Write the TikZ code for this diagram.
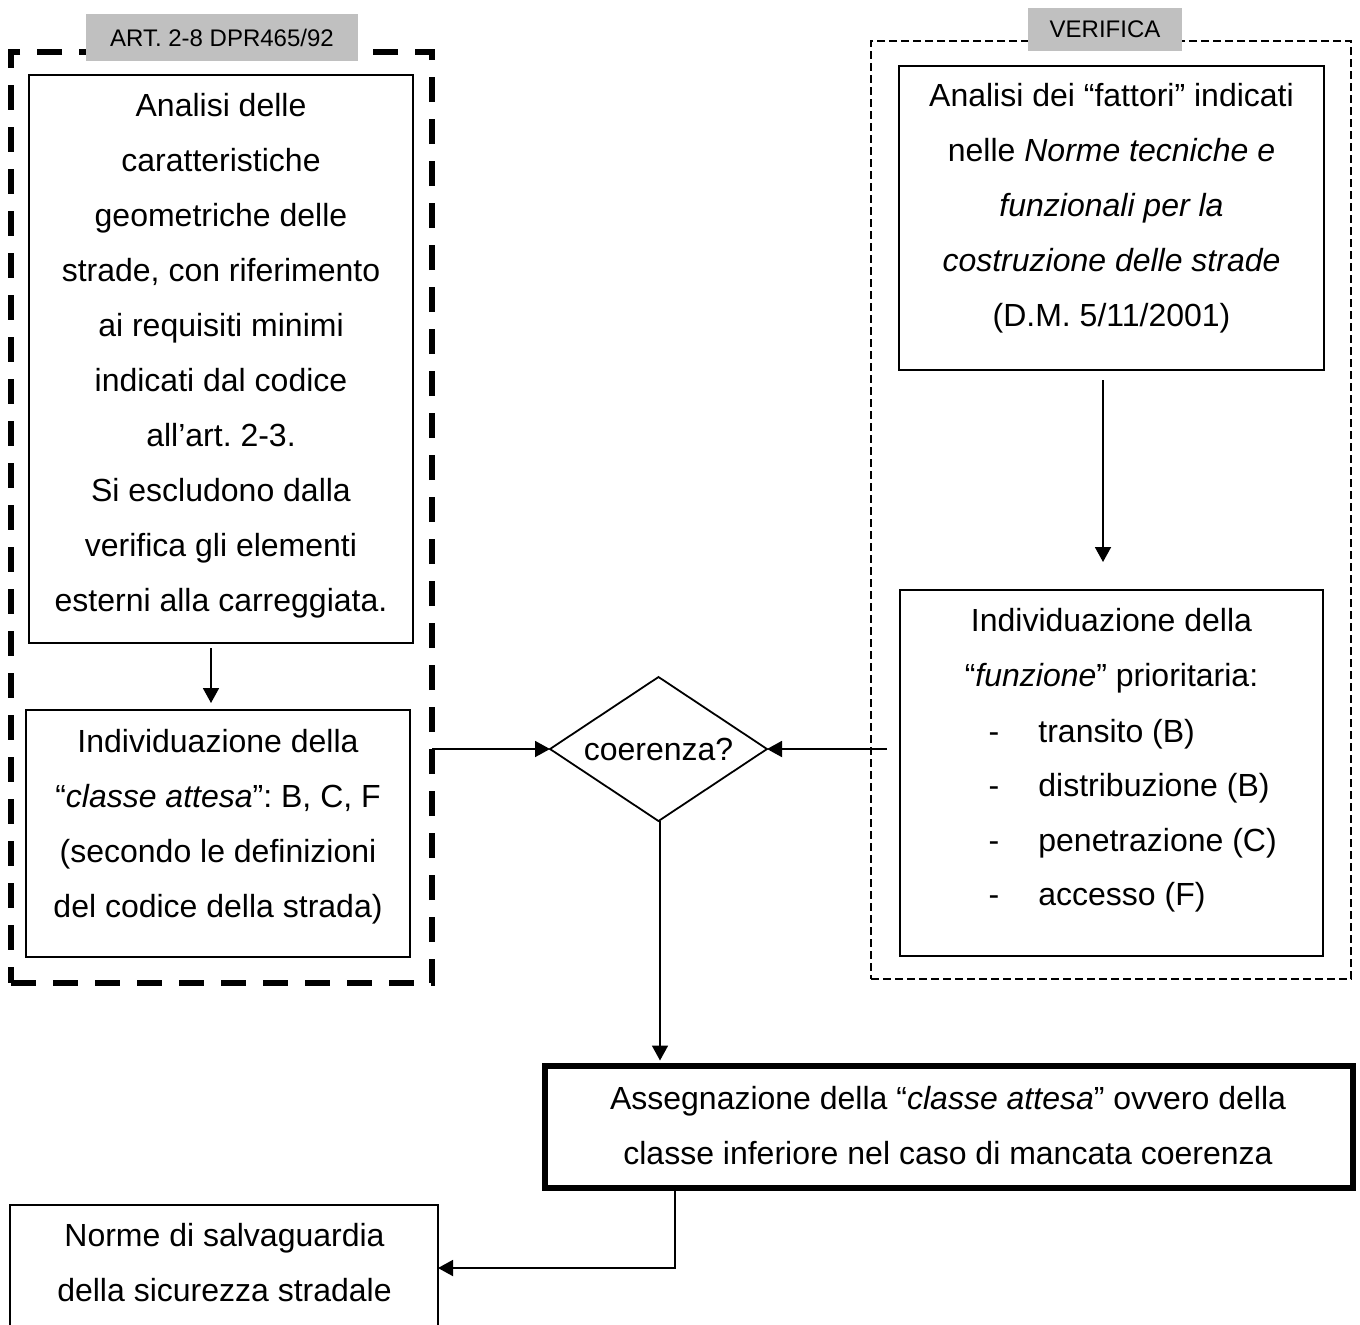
\documentclass[tikz,border=0pt]{standalone}
\usepackage{fontspec}
\setmainfont{Liberation Sans}
\usetikzlibrary{shapes.geometric,arrows.meta}
\definecolor{lblgray}{RGB}{192,192,192}
\frenchspacing
\begin{document}
\begin{tikzpicture}[x=0.5pt,y=-0.5pt,
  box/.style={draw, line width=0.9pt, rectangle, inner sep=0pt, outer sep=0pt},
  thickbox/.style={draw, line width=3pt, rectangle, inner sep=0pt, outer sep=0pt},
  grpthick/.style={draw, line width=3pt, dash pattern=on 12.5pt off 8.5pt, rectangle, inner sep=0pt, outer sep=0pt},
  grpthin/.style={draw, line width=1.1pt, dash pattern=on 4pt off 2pt, rectangle, inner sep=0pt, outer sep=0pt},
  txt/.style={align=center, inner sep=0pt, font=\fontsize{16}{27.5}\selectfont},
  item/.style={inner sep=0pt, font=\fontsize{16}{27.5}\selectfont},
  lbl/.style={fill=lblgray, inner sep=0pt, font=\fontsize{12}{14}\selectfont},
  decision/.style={draw, line width=0.9pt, diamond, aspect=1.5, inner sep=0pt, outer sep=0pt, font=\fontsize{16}{19}\selectfont},
  arr/.style={line width=0.9pt, -{Triangle[length=7.5pt,width=8pt]}},
  link/.style={line width=0.9pt}]
\useasboundingbox (0,0) rectangle (1360,1324);
\clip (0,0) rectangle (1360,1324);
\fill[white] (0,0) rectangle (1360,1324);

% group frames
\node[grpthick, minimum width=210.5pt, minimum height=465.5pt] (grp1) at (221.5,517.5) {};
\node[grpthin, minimum width=240pt, minimum height=469pt] (grp2) at (1111,510) {};

% group labels
\node[lbl, minimum width=136pt, minimum height=23.5pt] (lab1) at (222,37.5) {ART. 2-8 DPR465/92};
\node[lbl, minimum width=77pt, minimum height=21.5pt] (lab2) at (1105,29.5) {VERIFICA};

% boxes
\node[box, minimum width=192pt, minimum height=284pt] (b1) at (221,359) {};
\node[box, minimum width=192pt, minimum height=123.5pt] (b2) at (218,833.5) {};
\node[box, minimum width=212.5pt, minimum height=152pt] (b3) at (1111.5,218) {};
\node[box, minimum width=211.5pt, minimum height=183pt] (b4) at (1111.5,773) {};
\node[thickbox, minimum width=404pt, minimum height=61pt] (b5) at (949,1127) {};
\node[box, minimum width=214pt, minimum height=63pt] (b6) at (224,1268) {};

\node[decision, minimum width=108.5pt, minimum height=72pt] (dia) at (658.5,749) {coerenza?};

% texts
\node[txt] (t1) at (221,355.5) {Analisi delle\\caratteristiche\\geometriche delle\\strade, con riferimento\\ai requisiti minimi\\indicati dal codice\\all’art. 2-3.\\Si escludono dalla\\verifica gli elementi\\esterni alla carreggiata.};
\node[txt] (t2) at (218,826.5) {Individuazione della\\“\textit{classe attesa}”: B, C, F\\(secondo le definizioni\\del codice della strada)};
\node[txt] (t3) at (1111.5,208.5) {Analisi dei “fattori” indicati\\nelle \textit{Norme tecniche e}\\\textit{funzionali per la}\\\textit{costruzione delle strade}\\(D.M. 5/11/2001)};
\node[txt] (t4) at (1111.5,650.5) {Individuazione della\\“\textit{funzione}” prioritaria:};
\node[item, anchor=base] (d1) at (994,742) {-};
\node[item, anchor=base] (d2) at (994,796.5) {-};
\node[item, anchor=base] (d3) at (994,851) {-};
\node[item, anchor=base] (d4) at (994,905.5) {-};
\node[item, anchor=base west] (i1) at (1038,742) {transito (B)};
\node[item, anchor=base west] (i2) at (1038,796.5) {distribuzione (B)};
\node[item, anchor=base west] (i3) at (1038,851) {penetrazione (C)};
\node[item, anchor=base west] (i4) at (1038,905.5) {accesso (F)};
\node[txt] (t5) at (948,1125.5) {Assegnazione della “\textit{classe attesa}” ovvero della\\classe inferiore nel caso di mancata coerenza};
\node[txt] (t6) at (224.5,1262.5) {Norme di salvaguardia\\della sicurezza stradale};

% connectors
\draw[arr, shorten <=2.5pt, shorten >=3.5pt] ([xshift=-5pt]b1.south) -- ([xshift=-5pt]b1.south |- b2.north);
\draw[arr, shorten <=5pt, shorten >=14pt] ([xshift=-4.25pt]b3.south) -- ([xshift=-4.25pt]b3.south |- b4.north);
\draw[arr] (grp1.east |- dia.west) -- (dia.west);
\draw[arr, shorten <=-8pt] (grp2.west |- dia.east) -- (dia.east);
\draw[arr, shorten >=2.75pt] ([xshift=0.75pt]dia.south) -- ([xshift=0.75pt]dia.south |- b5.north);
\draw[arr] ([xshift=-137pt]b5.south) |- (b6.east);
\end{tikzpicture}
\end{document}
